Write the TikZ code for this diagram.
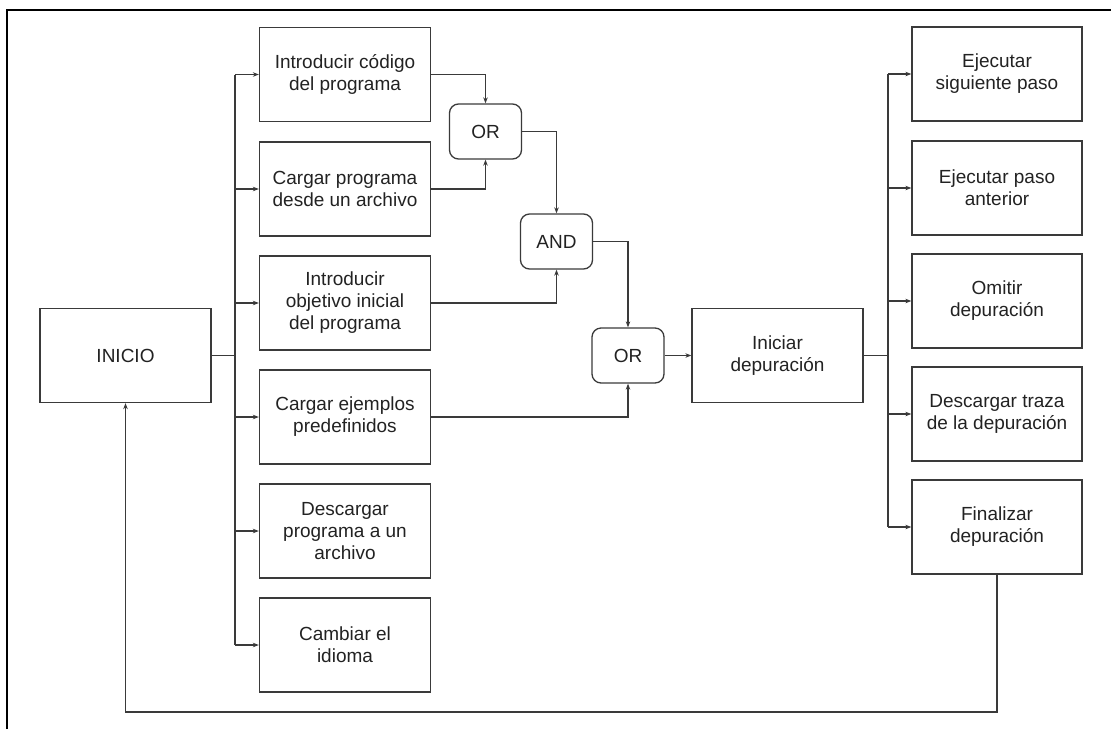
\documentclass[tikz,border=0pt]{standalone}
\usepackage{fontspec}
\setmainfont{Liberation Sans}
\usetikzlibrary{arrows.meta}
\definecolor{ln}{HTML}{3A3A3A}
\definecolor{tx}{HTML}{222222}
\begin{document}
\begin{tikzpicture}[x=1pt,y=-1pt,
  box/.style={draw=ln, line width=1.3pt, minimum width=171pt, minimum height=94pt, align=center, inner sep=2pt, text=tx, font=\fontsize{19}{22}\selectfont},
  gate/.style={draw=ln, line width=1.3pt, rounded corners=9pt, minimum width=72pt, minimum height=55pt, align=center, text=tx, font=\fontsize{19}{22}\selectfont},
  conn/.style={draw=ln, line width=1.1pt},
  arr/.style={conn, -{Stealth[length=6pt,width=4.5pt]}}]
\useasboundingbox (0,0) rectangle (1111,729);
\draw[black, line width=2pt] (7,729) -- (7,9.5) -- (1111,9.5);
% left column
\node[box] (inicio) at (125.5,355.5) {INICIO};
\node[box] (b1) at (345,74.5) {Introducir código\\del programa};
\node[box] (b2) at (345,189) {Cargar programa\\desde un archivo};
\node[box] (b3) at (345,303) {Introducir\\objetivo inicial\\del programa};
\node[box] (b4) at (345,417) {Cargar ejemplos\\predefinidos};
\node[box] (b5) at (345,531) {Descargar\\programa a un\\archivo};
\node[box] (b6) at (345,645) {Cambiar el\\idioma};
% gates
\node[gate] (or1) at (485.5,131.5) {OR};
\node[gate] (and) at (556.5,241.5) {AND};
\node[gate] (or2) at (628,355.5) {OR};
% center and right
\node[box] (ini) at (777.5,355.5) {Iniciar\\depuración};
\node[box, minimum width=170pt] (r1) at (997,74) {Ejecutar\\siguiente paso};
\node[box, minimum width=170pt] (r2) at (997,188) {Ejecutar paso\\anterior};
\node[box, minimum width=170pt] (r3) at (997,301) {Omitir\\depuración};
\node[box, minimum width=170pt] (r4) at (997,414) {Descargar traza\\de la depuración};
\node[box, minimum width=170pt] (r5) at (997,527) {Finalizar\\depuración};
% left bus
\coordinate (busL) at (235,355.5);
\draw[conn] (inicio.east) -- (busL);
\draw[conn] (busL |- b1.west) -- (busL |- b6.west);
\foreach \n in {b1,b2,b3,b4,b5,b6}
  \draw[arr] (busL |- \n.west) -- (\n.west);
% gates connectors
\draw[arr] (b1.east) -| (or1.north);
\draw[arr] (b2.east) -| (or1.south);
\draw[arr] (or1.east) -| (and.north);
\draw[arr] (b3.east) -| (and.south);
\draw[arr] (and.east) -| (or2.north);
\draw[arr] (b4.east) -| (or2.south);
\draw[arr] (or2.east) -- (ini.west);
% right bus
\coordinate (busR) at (888,355.5);
\draw[conn] (ini.east) -- (busR);
\draw[conn] (busR |- r1.west) -- (busR |- r5.west);
\foreach \n in {r1,r2,r3,r4,r5}
  \draw[arr] (busR |- \n.west) -- (\n.west);
% return
\coordinate (ret) at (997,712);
\draw[arr] (r5.south) -- (ret) -| (inicio.south);
\end{tikzpicture}
\end{document}
